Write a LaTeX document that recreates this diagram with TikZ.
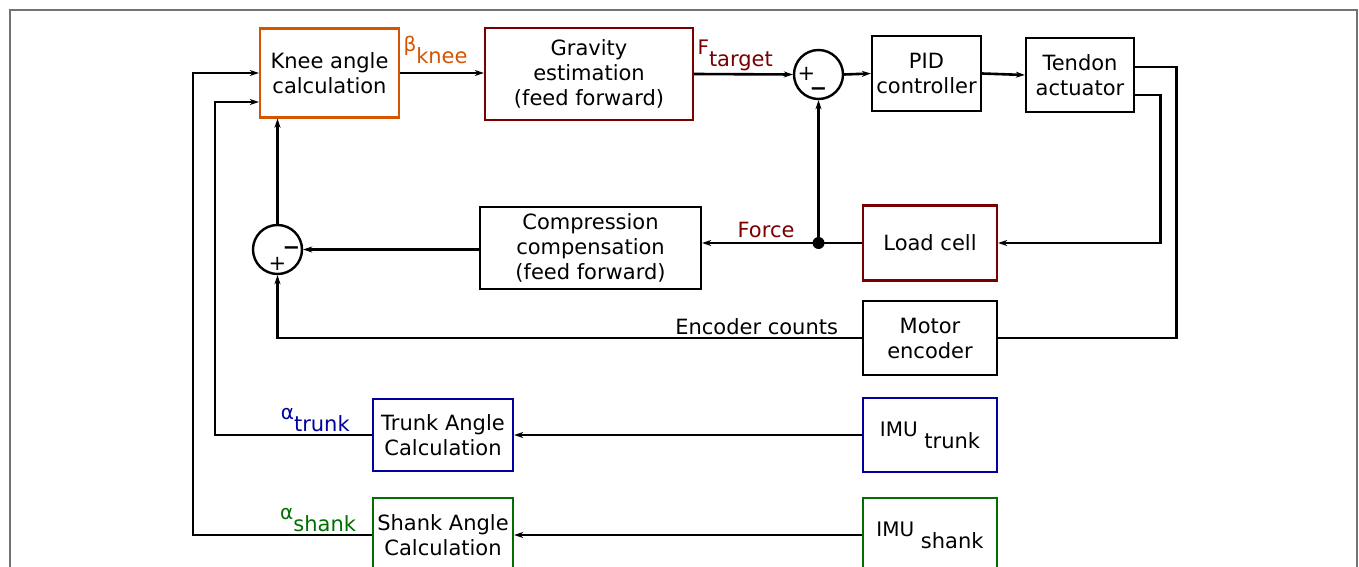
\documentclass[tikz,border=0pt]{standalone}
\usepackage{fontspec}
\setmainfont{DejaVu Sans}
\usetikzlibrary{arrows.meta}
\usetikzlibrary{calc}
\definecolor{kneeorange}{RGB}{212,85,0}
\definecolor{gravred}{RGB}{120,0,0}
\definecolor{trunkblue}{RGB}{0,0,160}
\definecolor{shankgreen}{RGB}{0,110,0}
\newcommand{\upsym}[1]{\raisebox{6pt}{\fontsize{10}{11}\selectfont #1}}

\begin{document}
\begin{tikzpicture}[x=0.5pt, y=-0.5pt,
    font=\fontsize{10.5}{12.5}\selectfont,
    block/.style={draw, line width=1.2pt, align=center, inner sep=1pt},
    sumnode/.style={draw, circle, line width=1.2pt, minimum size=24.5pt, inner sep=0pt},
    sign/.style={inner sep=0pt},
    link/.style={-{Stealth[length=4.5pt, width=3pt]}, line width=1.3pt},
    wire/.style={line width=1.3pt},
    tag/.style={inner sep=1pt}]
    \useasboundingbox (0,0) rectangle (1359,567);
    \draw[gray!90!black, line width=1pt] (10,567) -- (10,10) -- (1357,10) -- (1357,567);

    \node[block, draw=kneeorange, minimum width=69.5pt, minimum height=44.5pt] (knee) at (329.5, 73) {Knee angle\\calculation};
    \node[block, draw=gravred, minimum width=104pt, minimum height=46pt] (gravity) at (589, 74) {Gravity\\estimation\\(feed forward)};
    \node[sumnode] (sumtop) at (818.5, 74.5) {};
    \node[block, minimum width=54.5pt, minimum height=37.5pt] (pid) at (926.5, 73.5) {PID\\controller};
    \node[block, minimum width=54pt, minimum height=37pt] (tendon) at (1080, 75) {Tendon\\actuator};
    \node[block, draw=gravred, minimum width=67pt, minimum height=37.5pt] (loadcell) at (930, 243) {Load cell};
    \node[block, minimum width=67pt, minimum height=37pt] (motor) at (930, 338) {Motor\\encoder};
    \node[block, minimum width=110.5pt, minimum height=41pt] (comp) at (590.5, 248) {Compression\\compensation\\(feed forward)};
    \node[sumnode] (sumlow) at (277.5, 249.5) {};
    \node[block, draw=trunkblue, minimum width=70pt, minimum height=36pt] (trunk) at (443, 435) {Trunk Angle\\Calculation};
    \node[block, draw=trunkblue, minimum width=67pt, minimum height=37pt] (imutrunk) at (930, 435) {\upsym{IMU} trunk};
    \node[block, draw=shankgreen, minimum width=70pt, minimum height=37pt] (shank) at (443, 535) {Shank Angle\\Calculation};
    \node[block, draw=shankgreen, minimum width=67pt, minimum height=37pt] (imushank) at (930, 535) {\upsym{IMU} shank};

    \node[sign] (plustop) at ($(sumtop)+(-12,-1)$) {+};
    \node[sign] (minustop) at ($(sumtop)+(0,17)$) {\bfseries −};
    \node[sign] (minuslow) at ($(sumlow)+(14,1)$) {\bfseries −};
    \node[sign] (pluslow) at ($(sumlow)+(0,14)$) {+};

    \draw[link] (knee.east) -- (knee.east -| gravity.west) node[tag, pos=0, above right, yshift=3pt, text=kneeorange] {\upsym{β}knee};
    \draw[link] (gravity.east) -- (sumtop.west) node[tag, pos=0, above right, text=gravred] {\upsym{F}target};
    \draw[link] (sumtop.east) -- (pid.west);
    \draw[link] (pid.east) -- (tendon.west);
    \draw[wire] ($(tendon.east)+(0,-8)$) -- ++(41,0) |- (motor.east);
    \draw[link] ($(tendon.east)+(0,20)$) -- ++(25,0) |- (loadcell.east);

    \coordinate (forcejunc) at (sumtop |- loadcell.west);
    \draw[link] (loadcell.west) -- (loadcell.west -| comp.east) node[tag, pos=0.6, above, yshift=1pt, text=gravred] {Force};
    \fill (forcejunc) circle (3pt);
    \draw[link] (forcejunc) -- (sumtop.south);
    \draw[link] (sumlow.east -| comp.west) -- (sumlow.east);
    \draw[link] (sumlow.north) -- (sumlow.north |- knee.south);
    \draw[link] (motor.west) -| (sumlow.south) node[tag, pos=0.09, above] {Encoder counts};

    \draw[link] (imutrunk.west) -- (trunk.east);
    \draw[link] (imushank.west) -- (shank.east);
    \draw[link] (trunk.west) -- ++(-157,0) node[tag, pos=0.36, above, text=trunkblue] {\upsym{α}trunk} |- ($(knee.west)+(0,29)$);
    \draw[link] (shank.west) -- ++(-179,0) node[tag, pos=0.3, above, text=shankgreen] {\upsym{α}shank} |- (knee.west);
\end{tikzpicture}
\end{document}
